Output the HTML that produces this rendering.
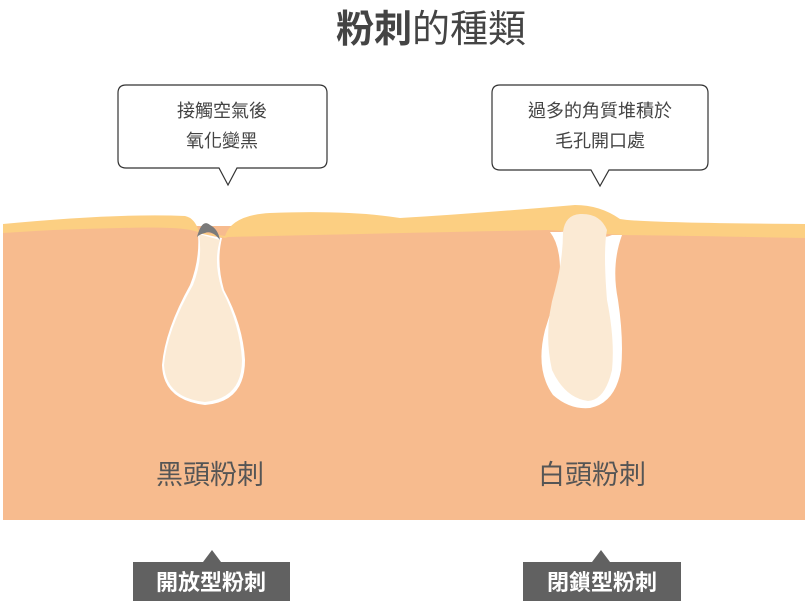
<!DOCTYPE html>
<html><head><meta charset="utf-8"><style>
html,body{margin:0;padding:0;background:#fff;width:808px;height:607px;overflow:hidden}
svg{display:block}
text{font-family:"Liberation Sans","Noto Sans CJK TC",sans-serif}
</style></head><body>
<svg width="808" height="607" viewBox="0 0 808 607" xmlns="http://www.w3.org/2000/svg">
<text x="431" y="42" text-anchor="middle" font-size="38" fill="#444"><tspan font-weight="bold">粉刺</tspan>的種類</text>
<path d="M126,85 H319 Q327,85 327,93 V160 Q327,168 319,168 H237 L228,185 L219,168 H126 Q118,168 118,160 V93 Q118,85 126,85 Z" fill="#fff" stroke="#333" stroke-width="1.2"/>
<text x="222" y="117" text-anchor="middle" font-size="18" fill="#444">接觸空氣後</text>
<text x="222" y="147" text-anchor="middle" font-size="18" fill="#444">氧化變黑</text>
<path d="M500,85 H700 Q708,85 708,93 V162 Q708,170 700,170 H609 L600,186 L591,170 H500 Q492,170 492,162 V93 Q492,85 500,85 Z" fill="#fff" stroke="#333" stroke-width="1.2"/>
<text x="600" y="117" text-anchor="middle" font-size="18" fill="#444">過多的角質堆積於</text>
<text x="600" y="147" text-anchor="middle" font-size="18" fill="#444">毛孔開口處</text>
<rect x="3" y="226" width="802" height="294" fill="#f7bb8e"/>
<path d="M3,224 Q120,213 185,216 Q195,218 199,232 L225,236 Q232,215 270,213 Q350,210 400,218 Q470,214 575,205 Q600,205 620,219 Q640,223 805,224 V238 Q700,236 622,235 L548,230 Q400,233 228,237 L225,238 L199,233 Q190,226 120,228 Q60,229 3,233 Z" fill="#fccf82"/>
<path d="M198,233 Q200,260 190,285 Q165,330 162,365 Q163,400 205,405 Q245,402 245,360 Q243,325 224,290 Q216,262 222,238 Z" fill="#fff"/>
<path d="M199,234 Q203,260 193,285 Q167,330 164,365 Q166,398 205,402 Q242,398 242,360 Q240,325 222,290 Q213,262 220,240 Z" fill="#fbead4"/>
<path d="M197,237 Q202,218 210,225 Q218,229 220,240 Q212,230 205,233 Q200,234 197,237 Z" fill="#7a7a7a"/>
<path d="M550,232 Q560,245 560,270 Q555,300 545,330 Q535,370 553,395 Q570,410 590,408 Q615,403 621,370 Q624,340 618,300 Q611,265 622,235 L612,235 Q600,240 595,232 Q580,230 560,232 Z" fill="#fff"/>
<path d="M563,232 Q565,215 580,214 Q600,213 607,230 Q603,250 607,300 Q615,340 612,370 Q605,400 588,401 Q565,398 552,370 Q543,330 555,290 Q563,260 563,232 Z" fill="#fbead4"/>
<text x="210" y="484" text-anchor="middle" font-size="27" fill="#555">黑頭粉刺</text>
<text x="592" y="484" text-anchor="middle" font-size="27" fill="#555">白頭粉刺</text>
<path d="M133,562 H203 L212,550 L221,562 H290 V601 H133 Z" fill="#616161"/>
<text x="211" y="590" text-anchor="middle" font-size="22" font-weight="bold" fill="#fff">開放型粉刺</text>
<path d="M523,562 H592 L601,550 L610,562 H681 V601 H523 Z" fill="#616161"/>
<text x="602" y="590" text-anchor="middle" font-size="22" font-weight="bold" fill="#fff">閉鎖型粉刺</text>
</svg>
</body></html>
